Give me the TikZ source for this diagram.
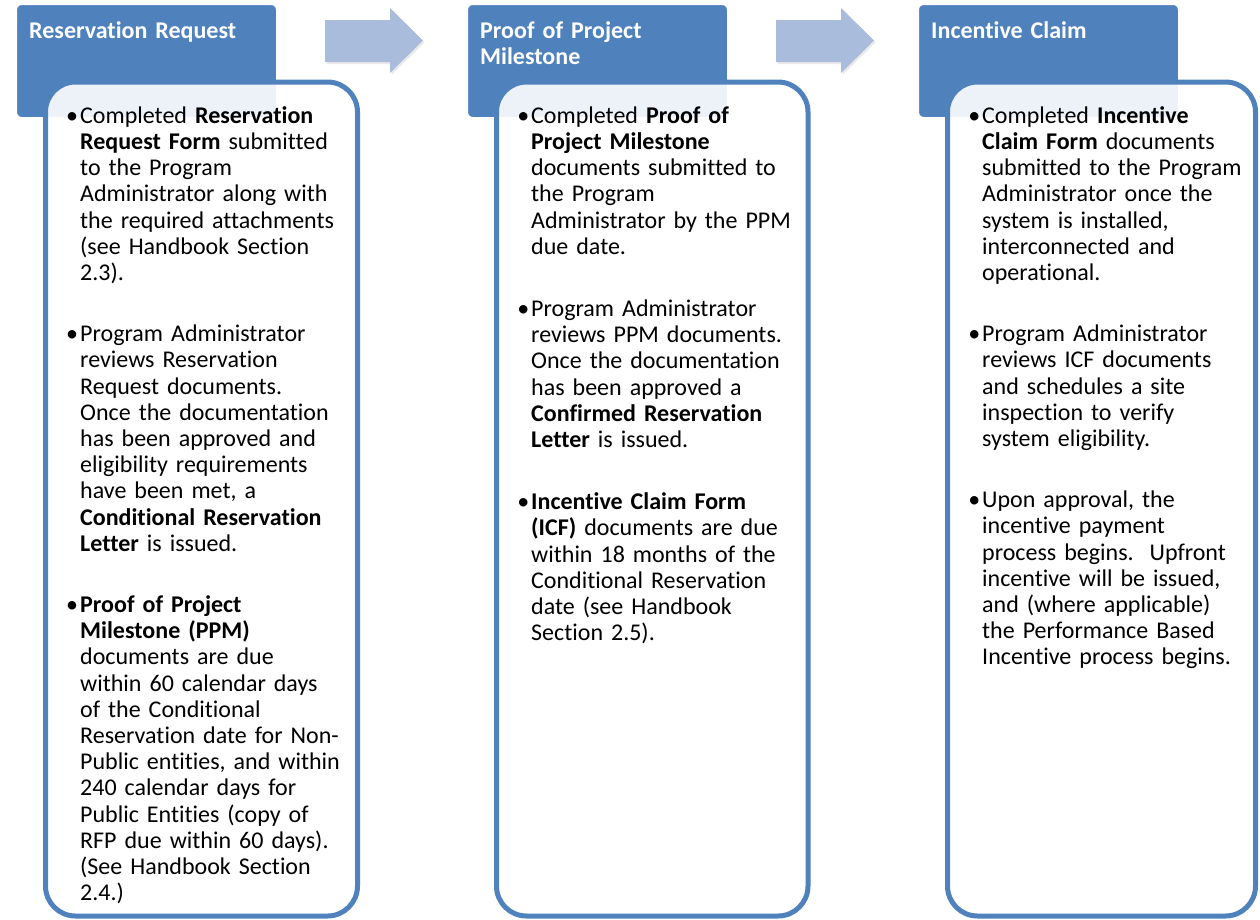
\documentclass[tikz,border=0pt]{standalone}
\usepackage{fontspec}
\setmainfont{Carlito}[Ligatures=NoCommon]
\usetikzlibrary{positioning,shadows}
\definecolor{HeadClr}{RGB}{79,129,189}
\definecolor{ArrowClr}{RGB}{170,188,219}
\setlength{\parindent}{0pt}
\newcommand{\itm}{\leavevmode\llap{\textbullet\hspace{2bp}}}
\newcommand{\rl}{\rule{0pt}{19bp}}

\tikzset{
  stagehead/.style={rectangle,rounded corners=8bp,fill=HeadClr,draw=white,line width=7bp,
    minimum width=266bp,minimum height=119bp,outer sep=0pt,anchor=north west,
    drop shadow={shadow xshift=1.5bp,shadow yshift=-2.5bp,opacity=.15,fill=black!70}},
  headtxt/.style={inner sep=0pt,text=white,align=left,text width=250bp,
    font=\fontsize{24bp}{26.2bp}\selectfont\bfseries},
  card/.style={rectangle,rounded corners=30bp,draw=HeadClr,line width=5bp,fill=white,
    fill opacity=.9,minimum height=834bp,outer sep=0pt,anchor=north west},
  cardtxt/.style={inner sep=0pt,align=left,text width=290bp,
    font=\fontsize{24bp}{26.2bp}\selectfont},
  stagearrow/.style={fill=ArrowClr,
    drop shadow={shadow xshift=1.5bp,shadow yshift=-2bp,opacity=.12,fill=black!70}}
}

\begin{document}
\begin{tikzpicture}[x=1bp,y=-1bp]
\useasboundingbox (0,0) rectangle (1260,920);

\foreach \dx in {0,451}
  \fill[stagearrow,xshift=\dx bp] (325,20) -- (390,20) -- (390,8) -- (423,40.5)
    -- (390,73) -- (390,62) -- (325,62) -- cycle;

% reservation request
\node[stagehead] (hd1) at (13.5,1.5) {};
\node[headtxt,below right=17.5bp and 15.5bp of hd1.north west] (ht1) {\rl Reservation Request};
\node[card,minimum width=312bp] (cd1) at (45.5,82) {};
\node[cardtxt,below right=22bp and 34.5bp of cd1.north west] (tx1) {\rl\itm Completed \textbf{Reservation}\\
\textbf{Request Form} submitted\\
to the Program\\
Administrator along with\\
the required attachments\\
(see Handbook Section\\
2.3).\\[35bp]
\itm Program Administrator\\
reviews Reservation\\
Request documents.\\
Once the documentation\\
has been approved and\\
eligibility requirements\\
have been met, a\\
\textbf{Conditional Reservation}\\
\textbf{Letter} is issued.\\[35bp]
\itm\textbf{Proof of Project}\\
\textbf{Milestone (PPM)}\\
documents are due\\
within 60 calendar days\\
of the Conditional\\
Reservation date for Non-\\
Public entities, and within\\
240 calendar days for\\
Public Entities (copy of\\
RFP due within 60 days).\\
(See Handbook Section\\
2.4.)};

% proof of project milestone
\node[stagehead] (hd2) at (464.5,1.5) {};
\node[headtxt,below right=17.5bp and 15.5bp of hd2.north west] (ht2) {\rl Proof of Project\\Milestone};
\node[card,minimum width=311.5bp] (cd2) at (496.5,82) {};
\node[cardtxt,below right=22bp and 34.5bp of cd2.north west] (tx2) {\rl\itm Completed \textbf{Proof of}\\
\textbf{Project Milestone}\\
documents submitted to\\
the Program\\
Administrator by the PPM\\
due date.\\[36bp]
\itm Program Administrator\\
reviews PPM documents.\\
Once the documentation\\
has been approved a\\
\textbf{Confirmed Reservation}\\
\textbf{Letter} is issued.\\[36bp]
\itm\textbf{Incentive Claim Form}\\
\textbf{(ICF)} documents are due\\
within 18 months of the\\
Conditional Reservation\\
date (see Handbook\\
Section 2.5).};

% incentive claim
\node[stagehead] (hd3) at (915.5,1.5) {};
\node[headtxt,below right=17.5bp and 15.5bp of hd3.north west] (ht3) {\rl Incentive Claim};
\node[card,minimum width=308bp] (cd3) at (947.5,82) {};
\node[cardtxt,below right=22bp and 34.5bp of cd3.north west] (tx3) {\rl\itm Completed \textbf{Incentive}\\
\textbf{Claim Form} documents\\
submitted to the Program\\
Administrator once the\\
system is installed,\\
interconnected and\\
operational.\\[35bp]
\itm Program Administrator\\
reviews ICF documents\\
and schedules a site\\
inspection to verify\\
system eligibility.\\[35bp]
\itm Upon approval, the\\
incentive payment\\
process begins.\ \ Upfront\\
incentive will be issued,\\
and (where applicable)\\
the Performance Based\\
Incentive process begins.};

\end{tikzpicture}
\end{document}
